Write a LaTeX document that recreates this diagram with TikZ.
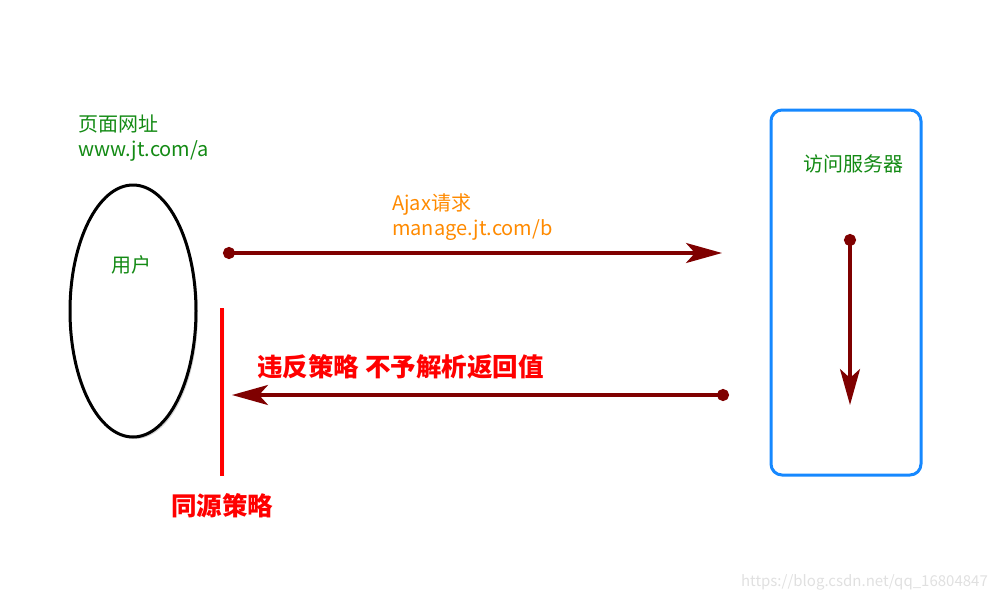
\documentclass[tikz,border=0pt]{standalone}
\usepackage{fontspec}
\setmainfont{Noto Sans CJK SC}
\usetikzlibrary{arrows.meta,shapes.geometric,shadows}
\definecolor{tgreen}{HTML}{138A14}
\definecolor{torange}{HTML}{FF8A00}
\definecolor{tdark}{HTML}{7F0000}
\definecolor{tred}{HTML}{FF0000}
\definecolor{tblue}{HTML}{1688FF}
\tikzset{
  greentxt/.style={text=tgreen, font=\fontsize{20}{25}\selectfont, align=left, inner sep=0pt},
  orangetxt/.style={text=torange, font=\fontsize{20}{25}\selectfont, align=left, inner sep=0pt},
  redtxt/.style={text=tred, font=\fontsize{25.5}{30}\selectfont\bfseries, inner sep=0pt},
  flow/.style={draw=tdark, line width=3.2pt, {Circle[length=12pt]}-{Stealth[length=36pt,width=20pt,inset=9pt]}},
  shade1/.style={drop shadow={opacity=0.35, shadow xshift=2pt, shadow yshift=-2pt}}
}
\begin{document}
\begin{tikzpicture}[x=1pt,y=-1pt]
\useasboundingbox (0,0) rectangle (998,600);
% user ellipse
\node[ellipse, draw=black, line width=3pt, fill=white, minimum width=126pt, minimum height=252pt, shade1] (user) at (133,311) {};
\node[greentxt] (userlbl) at (131,265) {用户};
\node[greentxt, anchor=north west] (page) at (78,115) {页面网址\\www.jt.com/a};
% server box
\node[draw=tblue, line width=3pt, rounded corners=11pt, minimum width=150pt, minimum height=365pt] (server) at (846,292.5) {};
\node[greentxt] (srvlbl) at (853,164) {访问服务器};
% same-origin line
\coordinate (s1) at (222,308);
\coordinate (s2) at (222,476);
\draw[tred, line width=3.4pt, drop shadow={opacity=0.3, shadow xshift=2.5pt, shadow yshift=-1pt}] (s1) -- (s2);
\node[redtxt, anchor=west] (same) at (171,506) {同源策略};
% request arrow
\coordinate (a1) at (223,253);
\coordinate (a2) at (722,253);
\draw[flow] (a1) -- (a2);
\node[orangetxt, anchor=north west] (ajax) at (392,193) {Ajax请求\\manage.jt.com/b};
% response arrow
\coordinate (b1) at (729,395);
\coordinate (b2) at (232,395);
\draw[flow] (b1) -- (b2);
\node[redtxt, anchor=west] (deny) at (257,367) {违反策略 不予解析返回值};
% server internal arrow
\coordinate (c1) at (850,234);
\coordinate (c2) at (850,405);
\draw[flow] (c1) -- (c2);
% watermark
\node[text=black!12, font=\fontsize{15}{16}\selectfont, anchor=east, inner sep=0pt] (wm) at (988,582) {https://blog.csdn.net/qq\_16804847};
\end{tikzpicture}
\end{document}
